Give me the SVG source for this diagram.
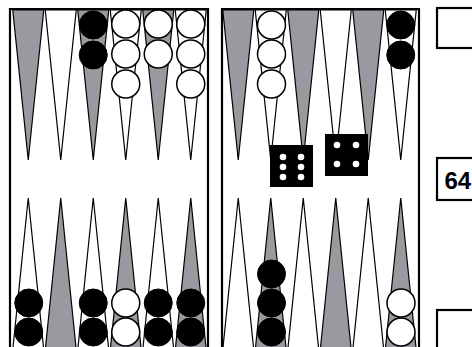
<svg xmlns="http://www.w3.org/2000/svg" width="472" height="347" viewBox="0 0 472 347">
<style>
.g{fill:#9b99a0;stroke:#000;stroke-width:1.2;stroke-linejoin:miter}
.w{fill:#fff;stroke:#000;stroke-width:1.2}
.wc{fill:#fff;stroke:#000;stroke-width:1.5}
.bc{fill:#000;stroke:#000;stroke-width:1}
.frame{fill:none;stroke:#000;stroke-width:2.2}
.die{fill:#000}
.pip{fill:#fff}
.box{fill:#fff;stroke:#000;stroke-width:2.2}
.t{font-family:"Liberation Sans",Arial,sans-serif;font-weight:bold;font-size:24px;fill:#000}
</style>
<defs>
<polygon id="tt" points="-15.5,10 15.5,10 0,160"/>
<polygon id="bt" points="-15.5,350 15.5,350 0,198"/>
</defs>
<rect width="472" height="347" fill="#fff"/>
<g id="left-board">
<use href="#tt" x="28.25" class="g"/>
<use href="#tt" x="60.75" class="w"/>
<use href="#tt" x="93.25" class="g"/>
<use href="#tt" x="125.75" class="w"/>
<use href="#tt" x="158.25" class="g"/>
<use href="#tt" x="190.75" class="w"/>
<use href="#bt" x="28.25" class="w"/>
<use href="#bt" x="60.75" class="g"/>
<use href="#bt" x="93.25" class="w"/>
<use href="#bt" x="125.75" class="g"/>
<use href="#bt" x="158.25" class="w"/>
<use href="#bt" x="190.75" class="g"/>
<path class="frame" d="M10,350 V9 H208 V350"/>
</g>
<g id="right-board">
<use href="#tt" x="238.25" class="g"/>
<use href="#tt" x="270.75" class="w"/>
<use href="#tt" x="303.25" class="g"/>
<use href="#tt" x="335.75" class="w"/>
<use href="#tt" x="368.25" class="g"/>
<use href="#tt" x="400.75" class="w"/>
<use href="#bt" x="238.25" class="w"/>
<use href="#bt" x="270.75" class="g"/>
<use href="#bt" x="303.25" class="w"/>
<use href="#bt" x="335.75" class="g"/>
<use href="#bt" x="368.25" class="w"/>
<use href="#bt" x="400.75" class="g"/>
<path class="frame" d="M222,350 V9 H419 V350"/>
</g>
<g id="checkers-left">
<circle class="bc" cx="93.25" cy="25" r="14"/>
<circle class="bc" cx="93.25" cy="55" r="14"/>
<circle class="wc" cx="125.75" cy="24" r="14"/>
<circle class="wc" cx="125.75" cy="54" r="14"/>
<circle class="wc" cx="125.75" cy="84" r="14"/>
<circle class="wc" cx="158.25" cy="24" r="14"/>
<circle class="wc" cx="158.25" cy="54" r="14"/>
<circle class="wc" cx="190.75" cy="24" r="14"/>
<circle class="wc" cx="190.75" cy="54" r="14"/>
<circle class="wc" cx="190.75" cy="84" r="14"/>
<circle class="bc" cx="28.75" cy="303" r="14"/>
<circle class="bc" cx="28.75" cy="332" r="14"/>
<circle class="bc" cx="93.25" cy="303" r="14"/>
<circle class="bc" cx="93.25" cy="332" r="14"/>
<circle class="wc" cx="125.75" cy="303" r="14"/>
<circle class="wc" cx="125.75" cy="332" r="14"/>
<circle class="bc" cx="158.25" cy="303" r="14"/>
<circle class="bc" cx="158.25" cy="332" r="14"/>
<circle class="bc" cx="190.75" cy="303" r="14"/>
<circle class="bc" cx="190.75" cy="332" r="14"/>
</g>
<g id="checkers-right">
<circle class="wc" cx="271.5" cy="25" r="14"/>
<circle class="wc" cx="271.5" cy="54" r="14"/>
<circle class="wc" cx="271.5" cy="84" r="14"/>
<circle class="bc" cx="400.75" cy="25" r="14"/>
<circle class="bc" cx="400.75" cy="55" r="14"/>
<circle class="bc" cx="271.5" cy="274" r="14"/>
<circle class="bc" cx="271.5" cy="303" r="14"/>
<circle class="bc" cx="271.5" cy="332" r="14"/>
<circle class="wc" cx="401" cy="303" r="14"/>
<circle class="wc" cx="401" cy="332" r="14"/>
</g>
<g id="die-six">
<rect class="die" x="270" y="145" width="43" height="42"/>
<circle class="pip" cx="283" cy="157" r="3.3"/>
<circle class="pip" cx="283" cy="167" r="3.3"/>
<circle class="pip" cx="283" cy="177" r="3.3"/>
<circle class="pip" cx="301" cy="157" r="3.3"/>
<circle class="pip" cx="301" cy="167" r="3.3"/>
<circle class="pip" cx="301" cy="177" r="3.3"/>
</g>
<g id="die-four">
<rect class="die" x="325" y="134" width="43" height="42"/>
<circle class="pip" cx="337" cy="145" r="3.3"/>
<circle class="pip" cx="356" cy="145" r="3.3"/>
<circle class="pip" cx="337" cy="164" r="3.3"/>
<circle class="pip" cx="356" cy="164" r="3.3"/>
</g>
<g id="box-top">
<rect class="box" x="437" y="8" width="60" height="40"/>
</g>
<g id="cube-64">
<rect class="box" x="437" y="158" width="60" height="42"/>
<text class="t" x="444.5" y="189">64</text>
</g>
<g id="box-bottom">
<rect class="box" x="437" y="310" width="60" height="60"/>
</g>
</svg>
